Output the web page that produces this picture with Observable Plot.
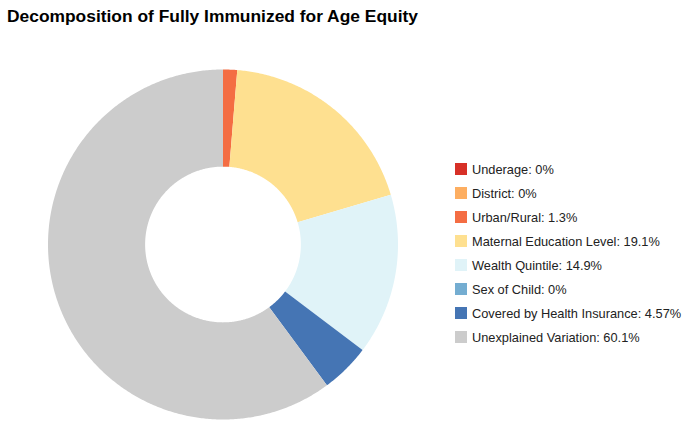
<!DOCTYPE html>
<html>
<head>
<meta charset="utf-8">
<script src="https://cdn.jsdelivr.net/npm/d3@7"></script>
<script src="https://cdn.jsdelivr.net/npm/@observablehq/plot@0.6"></script>
<style>
  html, body { margin: 0; padding: 0; background: #fff; }
  body { width: 688px; height: 424px; position: relative; overflow: hidden; font-family: "Liberation Sans", Arial, sans-serif; }
  #title { height: 40px; box-sizing: border-box; padding: 5px 0 0 7px; font-size: 17.4px; font-weight: bold; color: #000; line-height: 22px; white-space: nowrap; }
  #legend { position: absolute; left: 455px; top: 157px; }
  .row { display: flex; align-items: center; height: 24px; font-size: 12.8px; color: #222; white-space: nowrap; }
  .sw { width: 12px; height: 12px; margin-right: 5px; flex: none; }
  svg { display: block; }
</style>
</head>
<body>
<div id="title">Decomposition of Fully Immunized for Age Equity</div>
<div id="chart"></div>
<div id="legend"></div>
<script>
const categories = ["Underage", "District", "Urban/Rural", "Maternal Education Level", "Wealth Quintile", "Sex of Child", "Covered by Health Insurance", "Unexplained Variation"];
const values = [0, 0, 1.3, 19.1, 14.9, 0, 4.57, 60.1];
const valueLabels = ["0%", "0%", "1.3%", "19.1%", "14.9%", "0%", "4.57%", "60.1%"];
const colors = ["#d73027", "#fdae61", "#f46d43", "#fee090", "#e0f3f8", "#74add1", "#4575b4", "#cccccc"];

const data = categories.map((c, i) => ({cat: c, value: values[i]}));
const arcs = d3.pie().sort(null).value(d => d.value).startAngle(0).endAngle(2 * Math.PI)(data);
const inner = 0.445;
const pts = [];
for (const a of arcs) {
  if (a.endAngle - a.startAngle <= 0) continue;
  const n = Math.max(2, Math.ceil((a.endAngle - a.startAngle) / (Math.PI / 360)));
  for (let k = 0; k <= n; k++) {
    const t = a.startAngle + (a.endAngle - a.startAngle) * k / n;
    pts.push({cat: a.data.cat, x1: Math.sin(t), y1: Math.cos(t), x2: inner * Math.sin(t), y2: inner * Math.cos(t)});
  }
}

const chart = Plot.plot({
  width: 688,
  height: 384,
  marginLeft: 48,
  marginRight: 290,
  marginTop: 29.5,
  marginBottom: 4.5,
  x: {domain: [-1, 1], axis: null},
  y: {domain: [-1, 1], axis: null},
  color: {type: "ordinal", domain: categories, range: colors},
  marks: [
    Plot.area(pts, {x1: "x1", y1: "y1", x2: "x2", y2: "y2", z: "cat", fill: "cat", curve: "linear"})
  ]
});
document.getElementById("chart").appendChild(chart);

const lg = document.getElementById("legend");
categories.forEach((c, i) => {
  const row = document.createElement("div");
  row.className = "row";
  const sw = document.createElement("span");
  sw.className = "sw";
  sw.style.background = colors[i];
  const tx = document.createElement("span");
  tx.textContent = c + ": " + valueLabels[i];
  row.appendChild(sw);
  row.appendChild(tx);
  lg.appendChild(row);
});
</script>
</body>
</html>
